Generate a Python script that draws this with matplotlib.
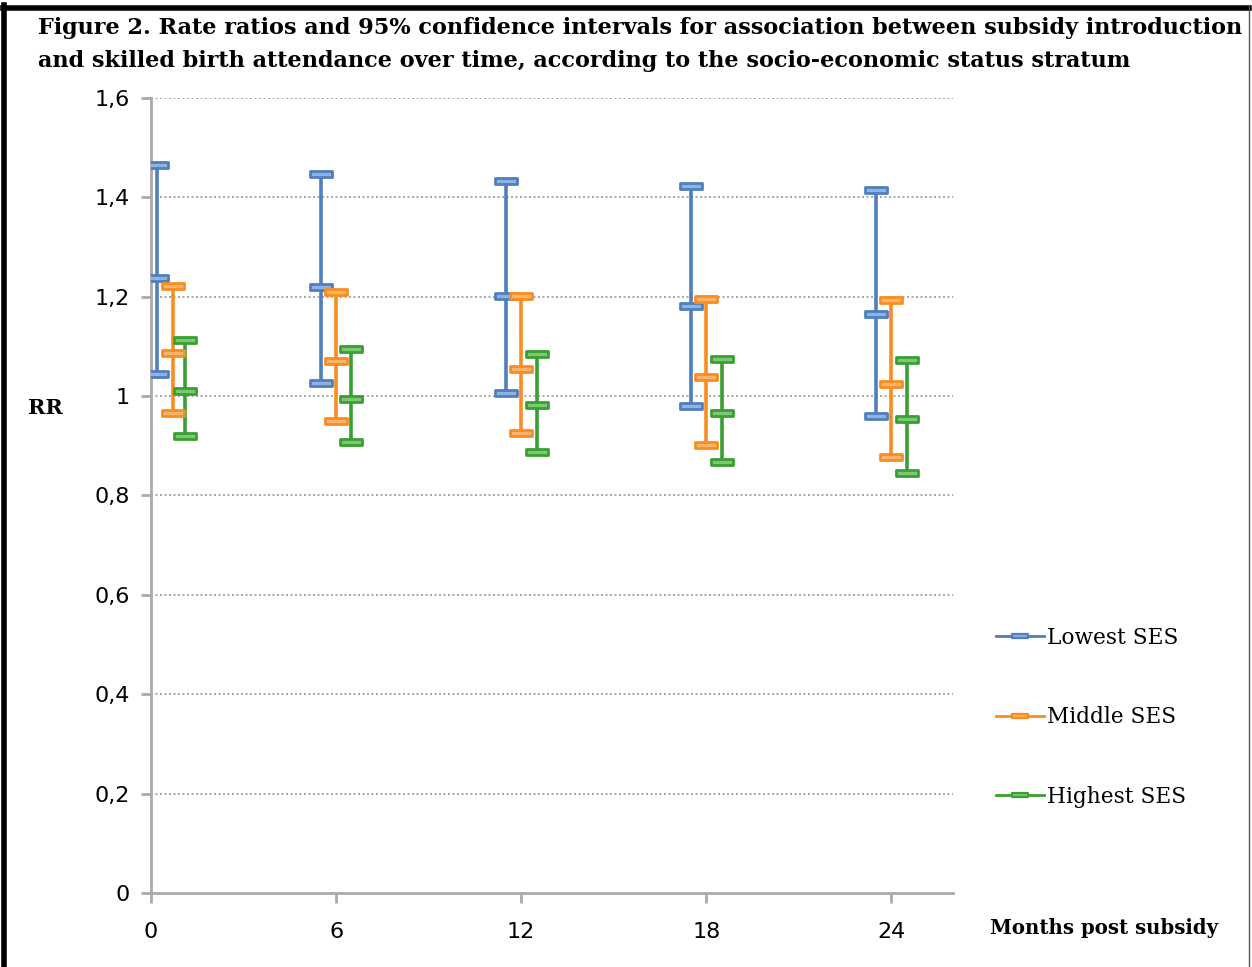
import matplotlib.pyplot as plt
from matplotlib.path import Path
from matplotlib.lines import Line2D

# Data (RR with 95% CI)
months = [0, 6, 12, 18, 24]
series_names = ['Lowest SES', 'Middle SES', 'Highest SES']

lowest_x = [0.2, 5.5, 11.5, 17.5, 23.5]
lowest_high = [1.465, 1.446, 1.433, 1.423, 1.415]
lowest_mid = [1.238, 1.220, 1.201, 1.182, 1.165]
lowest_low = [1.045, 1.027, 1.006, 0.981, 0.959]

middle_x = [0.7, 6.0, 12.0, 18.0, 24.0]
middle_high = [1.222, 1.209, 1.201, 1.196, 1.193]
middle_mid = [1.086, 1.071, 1.055, 1.039, 1.024]
middle_low = [0.967, 0.949, 0.925, 0.901, 0.878]

highest_x = [1.1, 6.5, 12.5, 18.5, 24.5]
highest_high = [1.112, 1.095, 1.084, 1.075, 1.073]
highest_mid = [1.011, 0.994, 0.982, 0.966, 0.953]
highest_low = [0.920, 0.908, 0.888, 0.867, 0.846]

yticks = [0, 0.2, 0.4, 0.6, 0.8, 1.0, 1.2, 1.4, 1.6]
ytick_labels = ['0', '0,2', '0,4', '0,6', '0,8', '1', '1,2', '1,4', '1,6']

colors = ['#4f7fbd', '#f98d22', '#3a9f33']
face_colors = ['#8fb3e0', '#fbb56a', '#7cc873']

# flat rectangle marker for the caps
cap = Path([(-1, -0.27), (1, -0.27), (1, 0.27), (-1, 0.27), (-1, -0.27)],
           [Path.MOVETO, Path.LINETO, Path.LINETO, Path.LINETO, Path.CLOSEPOLY])

fig = plt.figure(figsize=(12.52, 9.67), dpi=100)
ax = fig.add_axes([0.1206, 0.0765, 0.6406, 0.8222])

data = [
    (lowest_x, lowest_high, lowest_mid, lowest_low),
    (middle_x, middle_high, middle_mid, middle_low),
    (highest_x, highest_high, highest_mid, highest_low),
]

handles = []
for (xs, hi, mid, lo), c, fc, name in zip(data, colors, face_colors, series_names):
    ax.vlines(xs, lo, hi, color=c, lw=2.6, zorder=3)
    for vals in (hi, mid, lo):
        ax.plot(xs, vals, linestyle='None', marker=cap, markersize=16,
                markerfacecolor=fc, markeredgecolor=c, markeredgewidth=2, zorder=4)
    handles.append(Line2D([], [], color=c, lw=2, marker=cap, markersize=12,
                          markerfacecolor=fc, markeredgecolor=c, markeredgewidth=1.6))

ax.set_xlim(0, 26)
ax.set_ylim(0, 1.6)
ax.set_xticks(months)
ax.set_xticklabels([str(m) for m in months])
ax.set_yticks(yticks)
ax.set_yticklabels(ytick_labels)

for v in yticks[1:]:
    ax.axhline(v, color='#999999', lw=1.2, linestyle=(0, (1.2, 1.5)), zorder=1)

for s in ['top', 'right']:
    ax.spines[s].set_visible(False)
for s in ['left', 'bottom']:
    ax.spines[s].set_color('#aaaaaa')
    ax.spines[s].set_linewidth(2)
ax.tick_params(axis='both', direction='out', length=7, width=2, color='#aaaaaa',
               labelsize=16, labelcolor='black', pad=8)
ax.tick_params(axis='x', pad=14)

title_font = dict(family='DejaVu Serif', weight='bold', size=16.1)
fig.text(0.030, 0.971, 'Figure 2. Rate ratios and 95% confidence intervals for association between subsidy introduction',
         ha='left', va='center', **title_font)
fig.text(0.030, 0.937, 'and skilled birth attendance over time, according to the socio-economic status stratum',
         ha='left', va='center', **title_font)

fig.text(0.036, 0.578, 'RR', ha='center', va='center', family='DejaVu Serif', weight='bold', size=15)
fig.text(0.882, 0.040, 'Months post subsidy', ha='center', va='center',
         family='DejaVu Serif', weight='bold', size=14.2)

fig.legend(handles, series_names, loc='upper left', bbox_to_anchor=(0.780, 0.372),
           frameon=False, handlelength=2.2, handletextpad=0.15, labelspacing=2.65,
           prop={'family': 'DejaVu Serif', 'size': 15.6})

# figure frame
fig.add_artist(Line2D([0.003, 0.003], [0, 0.995], transform=fig.transFigure, color='black', lw=4))
fig.add_artist(Line2D([0.002, 0.998], [0.992, 0.992], transform=fig.transFigure, color='black', lw=4))
fig.add_artist(Line2D([0.998, 0.998], [0, 0.995], transform=fig.transFigure, color='#555555', lw=1))

fig.savefig('out.png', dpi=100)
